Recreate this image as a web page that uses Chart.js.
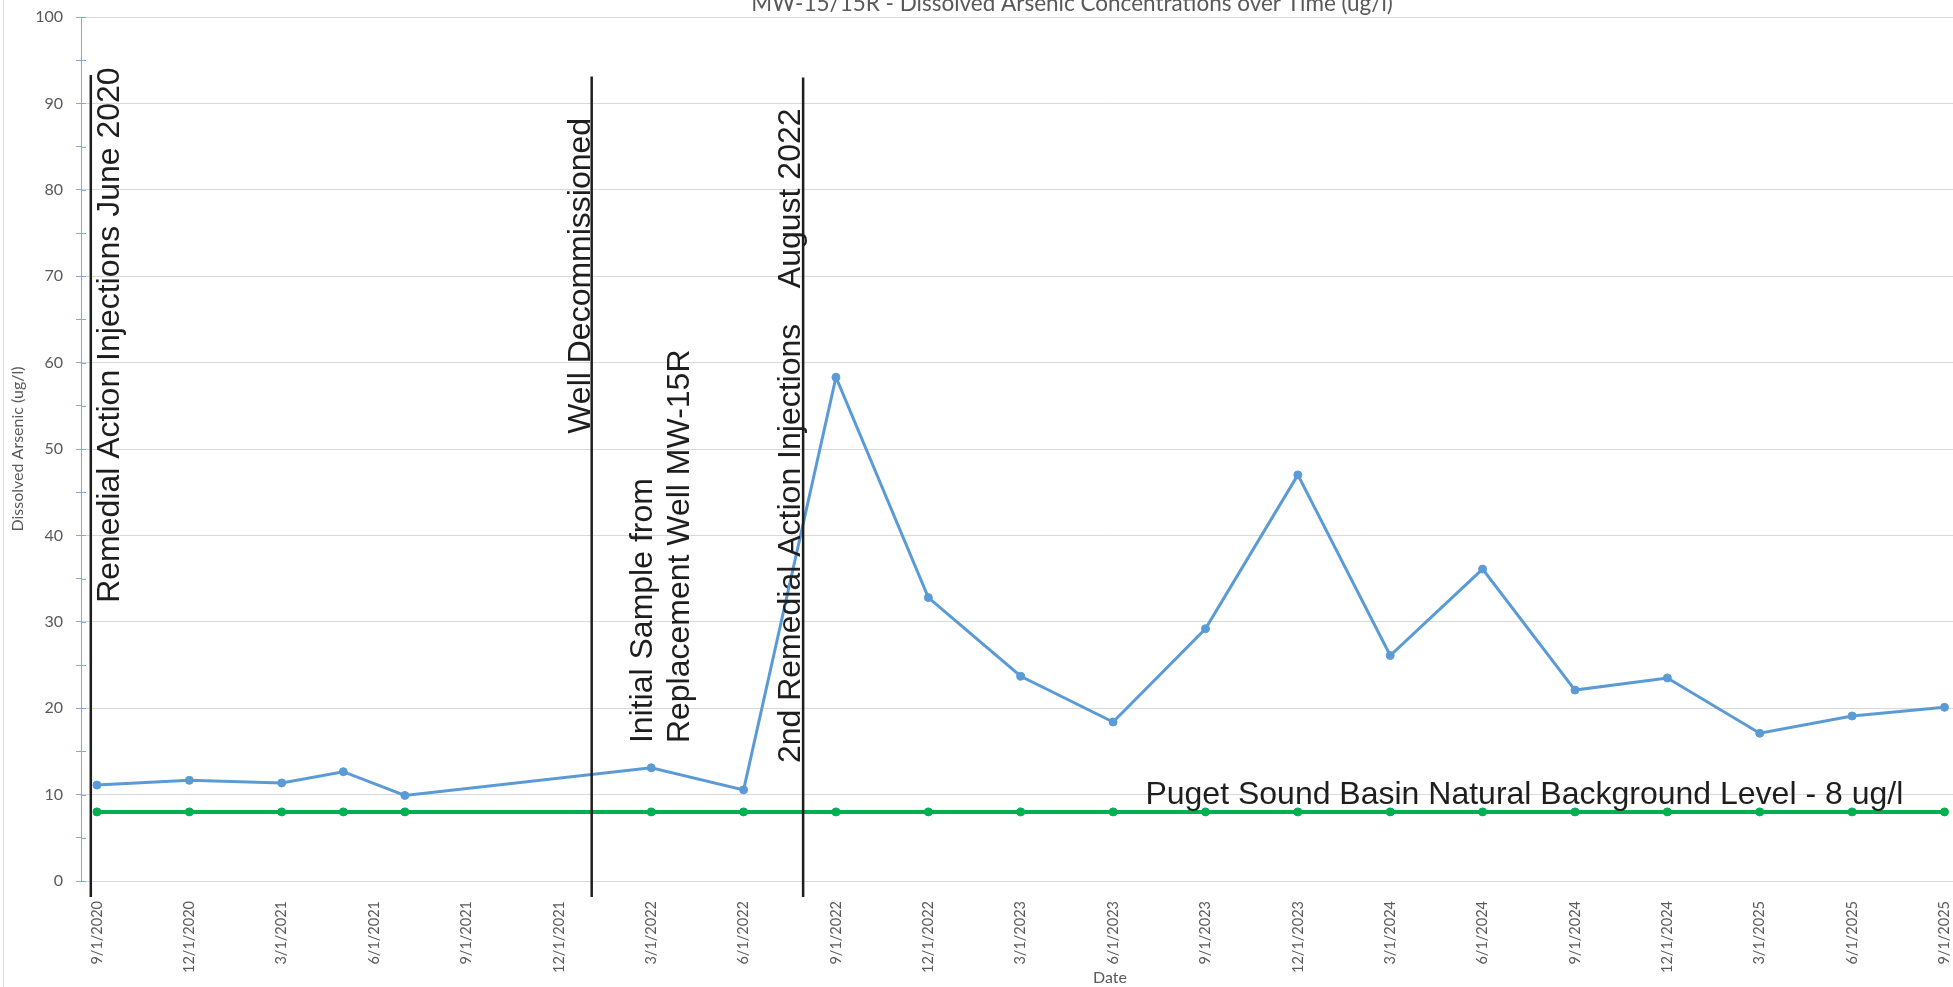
<!DOCTYPE html>
<html>
<head>
<meta charset="utf-8">
<title>MW-15/15R - Dissolved Arsenic Concentrations over Time (ug/l)</title>
<script src="https://cdn.jsdelivr.net/npm/chart.js@4.4.1/dist/chart.umd.min.js"></script>
<style>
    html, body { margin: 0; padding: 0; background: #fff; overflow: hidden; }
    #frame { position: relative; width: 1953px; height: 987px; overflow: hidden; }
    #wrap { position: absolute; left: 0; top: -8px; width: 2144px; height: 995px; }
    #edge { position: absolute; left: 3px; top: 0; height: 987px; border-left: 1px solid #d9d9d9; }
</style>
</head>
<body>
<div id="frame">
    <div id="wrap"><canvas id="lineChart"></canvas></div>
    <div id="edge"></div>
</div>
<script>
// sample dates (m/d/yyyy) and dissolved arsenic results, ug/l
const sampleDates = ['9/1/2020', '12/1/2020', '3/1/2021', '5/1/2021', '7/1/2021', '3/1/2022', '6/1/2022',
    '9/1/2022', '12/1/2022', '3/1/2023', '6/1/2023', '9/1/2023', '12/1/2023', '3/1/2024', '6/1/2024',
    '9/1/2024', '12/1/2024', '3/1/2025', '6/1/2025', '9/1/2025'];
const arsenic = [11.1, 11.65, 11.35, 12.65, 9.9, 13.1, 10.55, 58.3, 32.8, 23.7, 18.4, 29.2, 47.0, 26.1,
    36.1, 22.1, 23.5, 17.1, 19.1, 20.1];
const background = [8, 8, 8, 8, 8, 8, 8, 8, 8, 8, 8, 8, 8, 8, 8, 8, 8, 8, 8, 8];

const tickLabels = ['9/1/2020', '12/1/2020', '3/1/2021', '6/1/2021', '9/1/2021', '12/1/2021', '3/1/2022',
    '6/1/2022', '9/1/2022', '12/1/2022', '3/1/2023', '6/1/2023', '9/1/2023', '12/1/2023', '3/1/2024',
    '6/1/2024', '9/1/2024', '12/1/2024', '3/1/2025', '6/1/2025', '9/1/2025'];

// vertical event lines
const markerDates = ['8/25/2020', '1/3/2022', '7/29/2022'];
const markerTops = [93.3, 93.1, 93.0];
const markerBottom = -1.85;

const textColor = '#595959';
const axisBlue = '#7fa9dc';

// months counted from 9/1/2020
function monthsFrom(str) {
    const [mo, d, y] = str.split('/').map(Number);
    return (y - 2020) * 12 + (mo - 9) + (d - 1) / 30;
}

const tickMonths = tickLabels.map(monthsFrom);
const sampleMonths = sampleDates.map(monthsFrom);

// text boxes placed in axis units (x: months, y: ug/l)
const notes = [
    { text: 'Remedial Action Injections June 2020', x: 0.71, y: 32.2, vertical: true },
    { text: 'Well Decommissioned', x: 16.0, y: 51.76, vertical: true },
    { text: 'Initial Sample from', x: 18.01, y: 15.96, vertical: true },
    { text: 'Replacement Well MW-15R', x: 19.23, y: 15.96, vertical: true },
    { text: '2nd Remedial Action Injections\u00a0\u00a0\u00a0 August 2022', x: 22.83, y: 13.65, vertical: true },
    { text: 'Puget Sound Basin Natural Background Level - 8 ug/l', x: 34.05, y: 8.9, vertical: false }
];

const notesPlugin = {
    id: 'notes',
    afterDraw(chart) {
        const { ctx, scales: { x, y } } = chart;
        ctx.save();
        // axis ticks cross the axis line
        ctx.strokeStyle = axisBlue;
        ctx.lineWidth = 1;
        y.ticks.forEach(t => {
            const py = Math.round(y.getPixelForValue(t.value)) + 0.5;
            ctx.beginPath();
            ctx.moveTo(x.left, py);
            ctx.lineTo(x.left + 5, py);
            ctx.stroke();
        });
        ctx.fillStyle = '#1e1e1e';
        ctx.font = '32px "Liberation Sans", Arial, sans-serif';
        ctx.textAlign = 'left';
        ctx.textBaseline = 'alphabetic';
        notes.forEach(n => {
            ctx.save();
            ctx.translate(x.getPixelForValue(n.x), y.getPixelForValue(n.y));
            if (n.vertical) ctx.rotate(-Math.PI / 2);
            ctx.fillText(n.text, 0, 0);
            ctx.restore();
        });
        ctx.restore();
    }
};

const markerSets = markerDates.map((d, i) => ({
    label: 'event ' + (i + 1),
    data: [{ x: monthsFrom(d), y: markerBottom }, { x: monthsFrom(d), y: markerTops[i] }],
    borderColor: '#1e1e1e',
    borderWidth: 2.5,
    pointRadius: 0,
    clip: false,
    order: 0
}));

const ctx = document.getElementById('lineChart');
new Chart(ctx, {
    type: 'line',
    data: {
        datasets: [
            ...markerSets,
            {
                label: 'MW-15/15R',
                data: sampleMonths.map((m, i) => ({ x: m, y: arsenic[i] })),
                borderColor: '#5b9bd5',
                backgroundColor: '#5b9bd5',
                borderWidth: 3,
                pointRadius: 4,
                pointBorderWidth: 1,
                pointBackgroundColor: '#5b9bd5',
                tension: 0,
                order: 1
            },
            {
                label: 'Natural Background',
                data: sampleMonths.map((m, i) => ({ x: m, y: background[i] })),
                borderColor: '#00b050',
                backgroundColor: '#00b050',
                borderWidth: 4,
                pointRadius: 4,
                pointBorderWidth: 1,
                pointBackgroundColor: '#00b050',
                tension: 0,
                order: 2
            }
        ]
    },
    options: {
        responsive: true,
        maintainAspectRatio: false,
        animation: false,
        layout: { padding: 0 },
        plugins: {
            legend: { display: false },
            tooltip: { enabled: false },
            title: {
                display: true,
                text: 'MW-15/15R - Dissolved Arsenic Concentrations over Time (ug/l)',
                color: textColor,
                font: { family: 'Lato', size: 22.5, weight: 'normal', lineHeight: 1.2 },
                padding: { top: -2, bottom: 0 }
            }
        },
        scales: {
            x: {
                type: 'linear',
                min: -0.5184,
                max: 66.317,
                afterBuildTicks: s => { s.ticks = tickMonths.map(v => ({ value: v })); },
                afterFit: s => { s.height = 106; },
                grid: { display: false },
                border: { display: false },
                ticks: {
                    autoSkip: false,
                    minRotation: 90,
                    maxRotation: 90,
                    padding: 12,
                    color: textColor,
                    font: { family: 'Lato', size: 14.5 },
                    callback: (v, i) => tickLabels[i]
                },
                title: {
                    display: true,
                    text: 'Date',
                    color: textColor,
                    font: { family: 'Lato', size: 16 },
                    padding: { top: 0, bottom: 0 }
                }
            },
            y: {
                min: 0,
                max: 100,
                afterFit: s => { s.width = 81; },
                ticks: {
                    stepSize: 5,
                    padding: 13,
                    color: textColor,
                    font: { family: 'Lato', size: 16 },
                    callback: v => (v % 10 === 0 ? v : '')
                },
                grid: {
                    color: c => (c.tick && c.tick.value % 10 === 0 ? '#d9d9d9' : 'rgba(0,0,0,0)'),
                    tickColor: axisBlue,
                    tickLength: 5
                },
                border: { color: axisBlue },
                title: {
                    display: true,
                    text: 'Dissolved Arsenic (ug/l)',
                    color: textColor,
                    font: { family: 'Lato', size: 16 },
                    padding: { top: 8.4, bottom: 0 }
                }
            }
        }
    },
    plugins: [notesPlugin]
});
</script>
</body>
</html>
